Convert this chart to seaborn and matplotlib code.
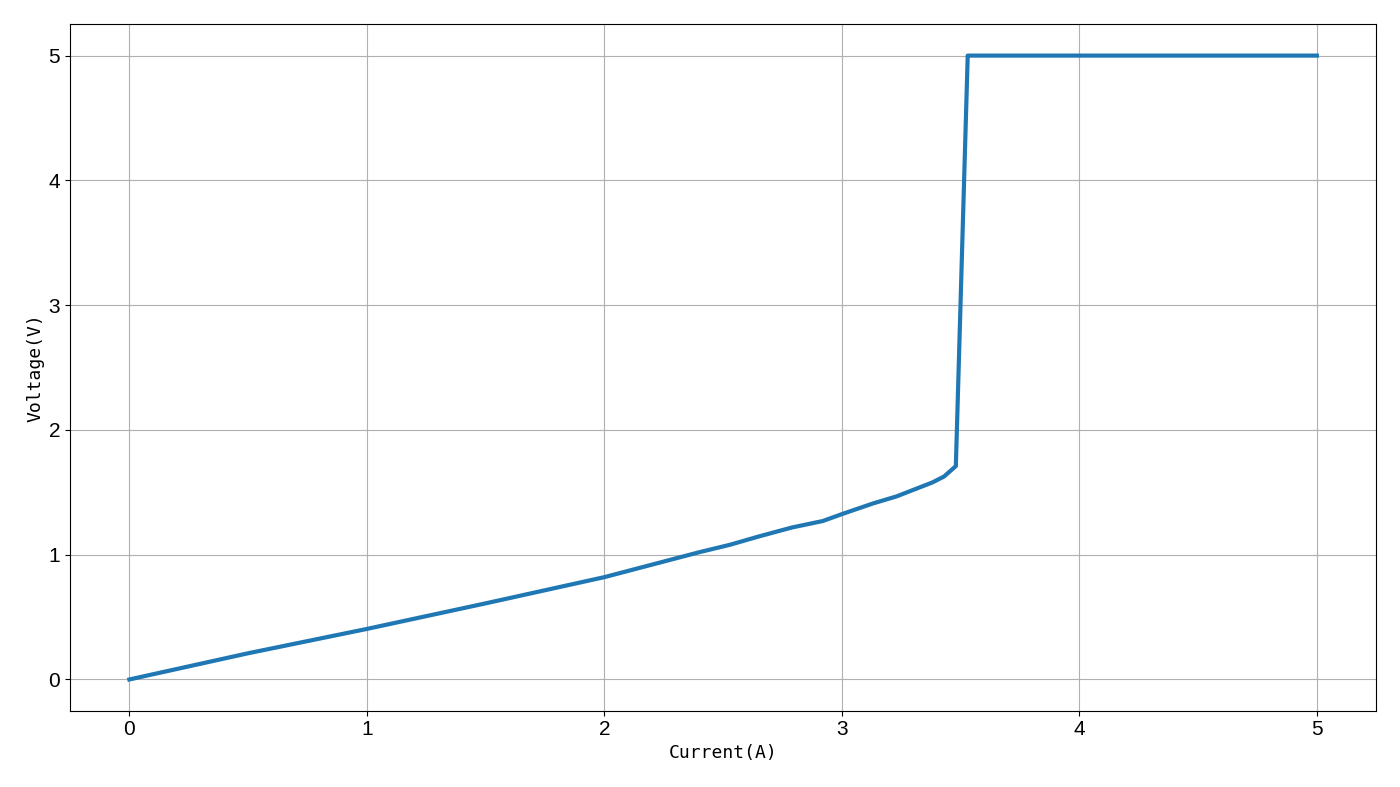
import numpy as np
import pandas as pd
import matplotlib
matplotlib.use('Agg')
import matplotlib.pyplot as plt
import seaborn as sns

# ── Data ────────────────────────────────────────────────────────────────────
current = [0.0, 0.5, 1.0, 1.5, 2.0, 2.4, 2.53, 2.65, 2.79, 2.92, 3.0,
           3.13, 3.23, 3.33, 3.38, 3.43, 3.48, 3.53, 5.0]
voltage = [0.0, 0.21, 0.405, 0.61, 0.82, 1.02, 1.08, 1.146, 1.218, 1.27, 1.325,
           1.41, 1.467, 1.541, 1.578, 1.626, 1.71, 5.0, 5.0]

df = pd.DataFrame({'Current': current, 'Voltage': voltage})

fig, ax = plt.subplots(figsize=(14, 7.87), dpi=100)
sns.lineplot(data=df, x='Current', y='Voltage', ax=ax, color='#1f77b4',
             linewidth=3, sort=False, estimator=None)

ax.grid(True, color='#b0b0b0', linewidth=0.8)
ax.set_axisbelow(True)
ax.set_xticks([0, 1, 2, 3, 4, 5])
ax.set_yticks([0, 1, 2, 3, 4, 5])
for lab in ax.get_xticklabels() + ax.get_yticklabels():
    lab.set_family('Liberation Sans')
    lab.set_fontsize(15)

ax.set_xlabel('Current(A)', fontsize=13, family=['DejaVu Sans Mono'], labelpad=3)
ax.set_ylabel('Voltage(V)', fontsize=13, family=['DejaVu Sans Mono'], labelpad=3)

plt.subplots_adjust(left=0.05, right=0.983, top=0.969, bottom=0.097)
plt.savefig('out.png', dpi=100)
plt.close()
